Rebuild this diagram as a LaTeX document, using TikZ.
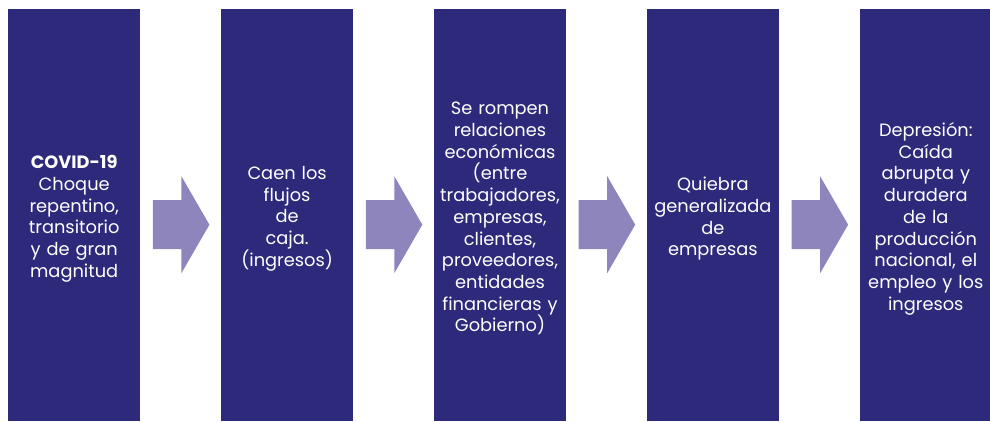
\documentclass[tikz,border=0pt]{standalone}
\usepackage{fontspec}
\setmainfont{Poppins}
\usetikzlibrary{positioning, calc}

\definecolor{boxblue}{RGB}{46,42,123}
\definecolor{arrowlila}{RGB}{141,133,188}

\begin{document}
\begin{tikzpicture}[x=1pt, y=-1pt,
  box/.style={fill=boxblue, minimum width=132pt, minimum height=412pt, inner sep=0pt},
  txt/.style={text=white, text width=130pt, align=center, inner sep=0pt,
    font=\fontsize{17.8}{21.7}\selectfont},
  flecha/.style={fill=arrowlila}]
  \useasboundingbox (0,0) rectangle (990,421);
  \node[box, anchor=north west] (b1) at (8,9) {};
  \node[box, right=80.5pt of b1] (b2) {};
  \node[box, right=80.5pt of b2] (b3) {};
  \node[box, right=80.5pt of b3] (b4) {};
  \node[box, right=80.5pt of b4] (b5) {};
  \node[txt] (t1) at ($(b1.center)+(0,3.5)$) {\textbf{COVID-19}\\Choque\\repentino,\\transitorio\\y de gran\\magnitud};
  \node[txt] (t2) at ($(b2.center)+(0,3.5)$) {Caen los\\flujos\\de\\caja.\\(ingresos)};
  \node[txt] (t3) at ($(b3.center)+(0,3.5)$) {Se rompen\\relaciones\\económicas\\(entre\\trabajadores,\\empresas,\\clientes,\\proveedores,\\entidades\\financieras y\\Gobierno)};
  \node[txt] (t4) at ($(b4.center)+(0,3.5)$) {Quiebra\\generalizada\\de\\empresas};
  \node[txt] (t5) at ($(b5.center)+(0,3.5)$) {Depresión:\\Caída\\abrupta y\\duradera\\de la\\producción\\nacional, el\\empleo y los\\ingresos};
  % flechas entre cajas
  \coordinate (a1) at ($(b1.east)+(12.5,9.5)$);
  \fill[flecha] (a1) ++(0,-24.5) -- ++(28.5,0) -- ++(0,-24) -- ++(28,48.5) -- ++(-28,48.5) -- ++(0,-24) -- ++(-28.5,0) -- cycle;
  \coordinate (a2) at ($(b2.east)+(12.5,9.5)$);
  \fill[flecha] (a2) ++(0,-24.5) -- ++(28.5,0) -- ++(0,-24) -- ++(28,48.5) -- ++(-28,48.5) -- ++(0,-24) -- ++(-28.5,0) -- cycle;
  \coordinate (a3) at ($(b3.east)+(12.5,9.5)$);
  \fill[flecha] (a3) ++(0,-24.5) -- ++(28.5,0) -- ++(0,-24) -- ++(28,48.5) -- ++(-28,48.5) -- ++(0,-24) -- ++(-28.5,0) -- cycle;
  \coordinate (a4) at ($(b4.east)+(12.5,9.5)$);
  \fill[flecha] (a4) ++(0,-24.5) -- ++(28.5,0) -- ++(0,-24) -- ++(28,48.5) -- ++(-28,48.5) -- ++(0,-24) -- ++(-28.5,0) -- cycle;
\end{tikzpicture}
\end{document}
